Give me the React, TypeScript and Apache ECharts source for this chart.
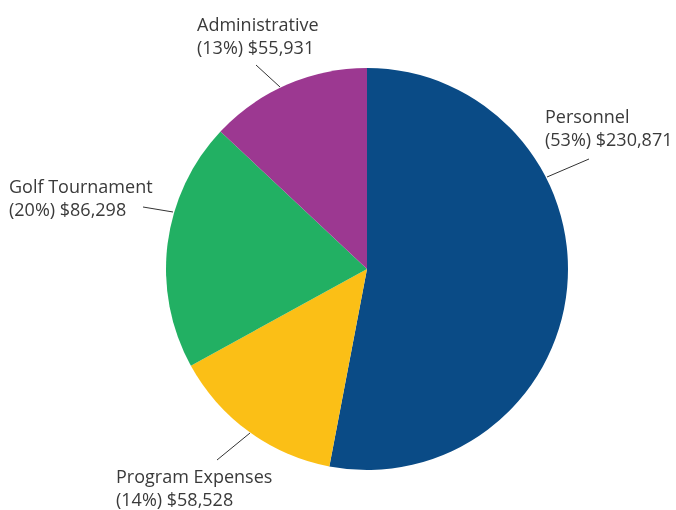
import React, { useEffect, useRef } from "react";
import * as echarts from "echarts";

const categories = ["Personnel", "Program Expenses", "Golf Tournament", "Administrative"];
const percents = [53, 14, 20, 13];
const amounts = [230871, 58528, 86298, 55931];
const colors = ["#0a4b86", "#fbbf16", "#22b063", "#9c3891"];

// label anchor (left x, vertical centre y) and leader line points, per slice
const labelPos = [
  [545, 127],
  [116, 487],
  [9, 197],
  [197, 35],
];
const leaderLines = [
  [[547, 177], [589, 159]],
  [[250, 433], [217, 460]],
  [[173, 212], [143, 207]],
  [[280, 87], [256, 65]],
];

export default function App() {
  const ref = useRef<HTMLDivElement>(null);
  useEffect(() => {
    const chart = echarts.init(ref.current!, null, { renderer: "svg" });
    chart.setOption({
      animation: false,
      series: [
        {
          type: "pie",
          center: [367, 269],
          radius: [0, 201],
          startAngle: 90,
          clockwise: true,
          avoidLabelOverlap: false,
          data: categories.map((name, i) => ({
            name,
            value: percents[i],
            itemStyle: { color: colors[i] },
          })),
          label: {
            show: true,
            position: "outside",
            fontFamily: "Open Sans",
            fontSize: 18,
            lineHeight: 23,
            color: "#3a3a3a",
            formatter: (p: any) =>
              `${p.name}\n(${p.value}%) $${amounts[p.dataIndex].toLocaleString("en-US")}`,
          },
          labelLine: {
            show: true,
            length: 20,
            length2: 0,
            lineStyle: { color: "#333333", width: 1 },
          },
          labelLayout: (params: any) => {
            const i = params.dataIndex;
            return {
              x: labelPos[i][0],
              y: labelPos[i][1],
              align: "left",
              verticalAlign: "middle",
              labelLinePoints: leaderLines[i],
            };
          },
          emphasis: { disabled: true },
        },
      ],
    });
    return () => chart.dispose();
  }, []);
  return (
    <div
      ref={ref}
      style={{ position: "fixed", left: 0, top: 0, width: 676, height: 510 }}
    />
  );
}
